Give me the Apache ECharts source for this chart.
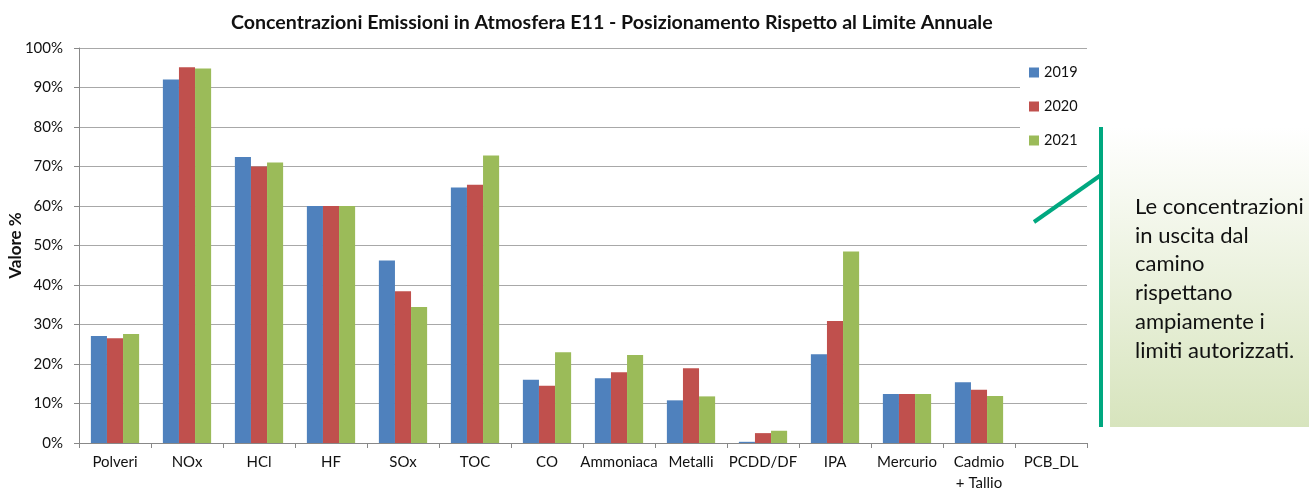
<!DOCTYPE html>
<html>
<head>
<meta charset="utf-8">
<script src="https://cdn.jsdelivr.net/npm/echarts@6/dist/echarts.min.js"></script>
<style>html,body{margin:0;padding:0;background:#fff;}#c{width:1309px;height:491px;}</style>
</head>
<body>
<div id="c"></div>
<script>
var categories = ['Polveri','NOx','HCl','HF','SOx','TOC','CO','Ammoniaca','Metalli','PCDD/DF','IPA','Mercurio','Cadmio\n+ Tallio','PCB_DL'];
var series2019 = [27.1, 92.0, 72.4, 60.0, 46.2, 64.7, 16.0, 16.4, 10.8, 0.3, 22.5, 12.4, 15.4, 0];
var series2020 = [26.5, 95.1, 70.0, 60.0, 38.4, 65.4, 14.5, 17.9, 18.9, 2.5, 30.9, 12.4, 13.5, 0];
var series2021 = [27.6, 94.8, 71.0, 60.0, 34.4, 72.8, 23.0, 22.3, 11.8, 3.1, 48.5, 12.4, 11.9, 0];
var yTicks = [0,10,20,30,40,50,60,70,80,90,100];
var noteLines = ['Le concentrazioni','in uscita dal','camino','rispettano','ampiamente i','limiti autorizzati.'];

var FONT = 'Lato';
var chart = echarts.init(document.getElementById('c'));
var noteGraphics = [
  {type:'rect', shape:{x:1110,y:127,width:199,height:300}, style:{fill:new echarts.graphic.LinearGradient(0,0,0,1,[{offset:0,color:'#ffffff'},{offset:1,color:'#d7e4bd'}])}, z:1},
  {type:'line', shape:{x1:1101,y1:127,x2:1101,y2:427}, style:{stroke:'#00a880',lineWidth:4}, z:2},
  {type:'line', shape:{x1:1034,y1:222,x2:1101,y2:175}, style:{stroke:'#00a880',lineWidth:4}, z:2}
];
noteLines.forEach(function(t,i){
  noteGraphics.push({type:'text', x:1135, y:207+i*28.7, style:{text:t, font:'22px '+FONT, fill:'#111', textVerticalAlign:'middle'}, z:3});
});

chart.setOption({
  animation:false,
  backgroundColor:'#fff',
  title:{text:'Concentrazioni Emissioni in Atmosfera E11 - Posizionamento Rispetto al Limite Annuale', left:226, top:8,
    textStyle:{fontFamily:FONT, fontWeight:'bold', fontSize:19.6, color:'#111'}},
  legend:{orient:'vertical', left:1020, top:56, padding:[9,20,8,9], itemGap:19, itemWidth:10, itemHeight:10,
    backgroundColor:'#fff', icon:'rect',
    textStyle:{fontFamily:FONT, fontSize:14.5, color:'#111', lineHeight:14},
    data:['2019','2020','2021']},
  grid:{left:79, right:222, top:48, bottom:48, containLabel:false, outerBoundsMode:'none'},
  xAxis:{type:'category', data:categories,
    axisLine:{lineStyle:{color:'#888'}},
    axisTick:{show:true, length:5, lineStyle:{color:'#888'}},
    axisLabel:{interval:0, fontFamily:FONT, fontSize:15, color:'#111', margin:9, lineHeight:21}},
  yAxis:{type:'value', min:0, max:100, interval:10,
    name:'Valore %', nameLocation:'middle', nameGap:55, nameRotate:90, nameMoveOverlap:false,
    nameTextStyle:{fontFamily:FONT, fontWeight:'bold', fontSize:17, color:'#111'},
    axisLine:{show:true, lineStyle:{color:'#888'}},
    axisTick:{show:true, length:5, inside:false, lineStyle:{color:'#888'}},
    splitLine:{lineStyle:{color:'#a8a8a8'}},
    axisLabel:{fontFamily:FONT, fontSize:15, color:'#111', margin:16, formatter:function(v){return yTicks.indexOf(v)>=0? v+'%' : '';}}},
  series:[
    {name:'2019', type:'bar', data:series2019, barGap:'0%', barCategoryGap:'33%', itemStyle:{color:'#4f81bd'}},
    {name:'2020', type:'bar', data:series2020, barGap:'0%', barCategoryGap:'33%', itemStyle:{color:'#c0504d'}},
    {name:'2021', type:'bar', data:series2021, barGap:'0%', barCategoryGap:'33%', itemStyle:{color:'#9bbb59'}}
  ],
  graphic:noteGraphics
});
</script>
</body>
</html>
